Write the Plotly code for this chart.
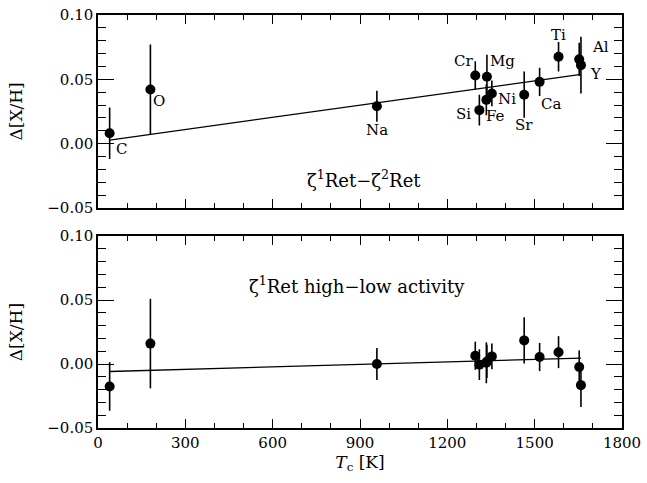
import numpy as np
import plotly.graph_objects as go

# ---- data ----
elements = ["C", "O", "Na", "Cr", "Si", "Fe", "Mg", "Ni", "Sr", "Ca", "Ti", "Al", "Y"]
tc = [40, 180, 958, 1296, 1310, 1334, 1336, 1353, 1464, 1517, 1582, 1653, 1659]

top_val = [0.008, 0.042, 0.029, 0.053, 0.026, 0.034, 0.052, 0.039, 0.038, 0.048, 0.0675, 0.0655, 0.061]
top_err = [0.020, 0.035, 0.012, 0.011, 0.012, 0.012, 0.017, 0.010, 0.018, 0.011, 0.0115, 0.013, 0.022]

bot_val = [-0.0175, 0.016, 0.000, 0.0065, -0.0005, 0.001, 0.002, 0.006, 0.0185, 0.0055, 0.0093, -0.0023, -0.0165]
bot_err = [0.019, 0.035, 0.0125, 0.011, 0.012, 0.016, 0.013, 0.010, 0.018, 0.011, 0.0125, 0.013, 0.017]

# linear fits (slope, intercept)
top_fit = (3.15e-5, 0.0015)
bot_fit = (6.5e-6, -0.0061)

x_ticks = [0, 300, 600, 900, 1200, 1500, 1800]
y_ticks = [-0.05, 0.00, 0.05, 0.10]

top_title = "ζ<sup>1</sup>Ret−ζ<sup>2</sup>Ret"
bot_title = "ζ<sup>1</sup>Ret high−low activity"

# label offsets in pixels (style only)
label_shift = {
    "C": (12, -16), "O": (9, -11), "Na": (0, -24), "Cr": (-12, 14), "Mg": (16, 16),
    "Si": (-16, -4), "Fe": (9, -16), "Ni": (15, -6), "Sr": (0, -30), "Ca": (11, -22),
    "Ti": (0, 22), "Al": (21, 12), "Y": (15, -9),
}

FONT = "DejaVu Serif"
fig = go.Figure()

tc_arr = np.array(tc)
for vals, errs, fit, xa, ya in [(top_val, top_err, top_fit, "x", "y"),
                                (bot_val, bot_err, bot_fit, "x2", "y2")]:
    fig.add_trace(go.Scatter(
        x=tc, y=vals, mode="markers", xaxis=xa, yaxis=ya,
        marker=dict(color="black", size=10),
        error_y=dict(type="data", array=errs, color="black", thickness=1.6, width=0),
        showlegend=False, hoverinfo="skip"))
    xs = np.sort(tc_arr)
    fig.add_trace(go.Scatter(
        x=xs, y=fit[0] * xs + fit[1], mode="lines", xaxis=xa, yaxis=ya,
        line=dict(color="black", width=1.3), showlegend=False, hoverinfo="skip"))

annotations = []
for el, x, y in zip(elements, tc, top_val):
    dx, dy = label_shift[el]
    annotations.append(dict(x=x, y=y, xref="x", yref="y", text=el, showarrow=False,
                            xshift=dx, yshift=dy, font=dict(family=FONT, size=15, color="black")))
annotations.append(dict(x=913, y=-0.0277, xref="x", yref="y", text=top_title, showarrow=False,
                        font=dict(family=FONT, size=18, color="black")))
annotations.append(dict(x=888, y=0.0616, xref="x2", yref="y2", text=bot_title, showarrow=False,
                        font=dict(family=FONT, size=18, color="black")))

axis_common = dict(showline=True, linecolor="black", linewidth=1.5, mirror="allticks",
                   ticks="inside", tickcolor="black", showgrid=False, zeroline=False,
                   tickfont=dict(family=FONT, size=15, color="black"))

xaxis_common = dict(axis_common, range=[0, 1800], tickvals=x_ticks, ticklen=9, tickwidth=1.2,
                    minor=dict(dtick=100, ticklen=5, ticks="inside", tickcolor="black", tickwidth=1.2))
yaxis_common = dict(axis_common, range=[-0.05, 0.10], tickvals=y_ticks, tickformat=".2f",
                    ticklen=16, tickwidth=1.2,
                    minor=dict(dtick=0.01, ticklen=8, ticks="inside", tickcolor="black", tickwidth=1.2))

fig.update_layout(
    width=647, height=483,
    margin=dict(l=98, r=24, t=6, b=55),
    paper_bgcolor="white", plot_bgcolor="white",
    font=dict(family=FONT, size=15, color="black"),
    xaxis=dict(xaxis_common, domain=[0, 1], anchor="y", showticklabels=False),
    yaxis=dict(yaxis_common, domain=[0.533, 1], anchor="x",
               title=dict(text="Δ[X/H]", font=dict(family=FONT, size=17), standoff=20)),
    xaxis2=dict(xaxis_common, domain=[0, 1], anchor="y2",
                title=dict(text="<i>T</i><sub>c</sub> [K]", font=dict(family=FONT, size=17), standoff=2)),
    yaxis2=dict(yaxis_common, domain=[0, 0.4645], anchor="x2",
                title=dict(text="Δ[X/H]", font=dict(family=FONT, size=17), standoff=20)),
    annotations=annotations,
)

fig.write_html("out.html", config={"displayModeBar": False},
               post_script="document.body.style.margin='0px';document.body.style.padding='0px';")
